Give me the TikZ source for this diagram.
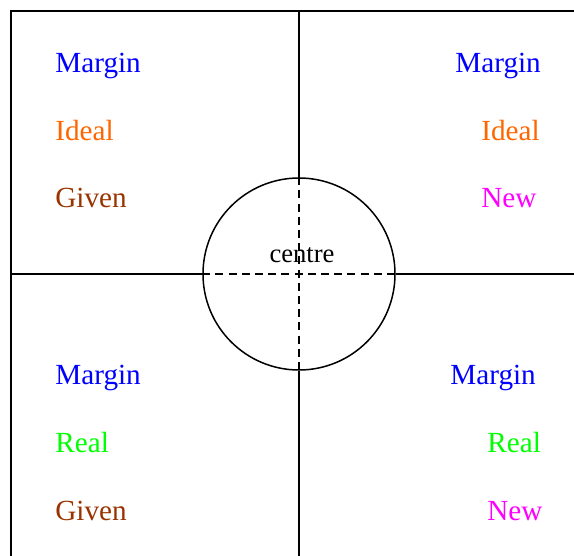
\documentclass[tikz,border=0pt]{standalone}
\usepackage{fontspec}
\setmainfont{Liberation Serif}
\usetikzlibrary{positioning}
\definecolor{MarginBlue}  {RGB}{  0,   0, 255}
\definecolor{IdealOrange} {RGB}{255, 102,   0}
\definecolor{GivenBrown}  {RGB}{153,  51,   0}
\definecolor{RealGreen}   {RGB}{  0, 255,   0}
\definecolor{NewMagenta}  {RGB}{255,   0, 255}
\tikzset{
  % quadrant label
  qlabel/.style={
    anchor=base west, inner sep=0pt,
    font=\fontsize{14.6}{17}\selectfont, text=#1
  },
  qlabel/.default=black,
  % frame and cross lines
  frameline/.style={line width=0.75pt, color=black},
  crossline/.style={line width=0.75pt, color=black, dashed,
    dash pattern=on 4pt off 2.6pt}
}
\begin{document}
\begin{tikzpicture}[x=0.5pt, y=-0.5pt]
  \useasboundingbox (0,0) rectangle (574,556);

  % ── frame points ──────────────────────────────────────────
  \coordinate (tl)     at (11,11);
  \coordinate (tr)     at (574,11);
  \coordinate (bl)     at (11,556);
  \coordinate (top)    at (299,11);
  \coordinate (bottom) at (299,556);
  \coordinate (left)   at (11,274);
  \coordinate (right)  at (574,274);

  % ── centre circle ─────────────────────────────────────────
  \node[circle, draw, line width=0.75pt, minimum size=96pt, inner sep=0pt]
        (hub) at (299,274) {};
  \node[anchor=base, inner sep=0pt, font=\fontsize{13.3}{15}\selectfont]
        (centre) at (302,263) {centre};

  % ── frame and cross ───────────────────────────────────────
  \draw[frameline] (bl) -- (tl) -- (tr);
  \draw[frameline] (top) -- (hub.north);
  \draw[frameline] (hub.south) -- (bottom);
  \draw[frameline] (left) -- (hub.west);
  \draw[frameline] (hub.east) -- (right);
  \draw[crossline] (hub.north) -- (hub.south);
  \draw[crossline] (hub.west) -- (hub.east);

  % ── top left ──────────────────────────────────────────────
  \node[qlabel=MarginBlue]  (tl_margin) at (55,73)  {Margin};
  \node[qlabel=IdealOrange] (tl_ideal)  at (55,141) {Ideal};
  \node[qlabel=GivenBrown]  (tl_given)  at (55,208) {Given};

  % ── top right ─────────────────────────────────────────────
  \node[qlabel=MarginBlue]  (tr_margin) at (455,73)  {Margin};
  \node[qlabel=IdealOrange] (tr_ideal)  at (481,141) {Ideal};
  \node[qlabel=NewMagenta]  (tr_new)    at (481,208) {New};

  % ── bottom left ───────────────────────────────────────────
  \node[qlabel=MarginBlue]  (bl_margin) at (55,385) {Margin};
  \node[qlabel=RealGreen]   (bl_real)   at (55,452) {Real};
  \node[qlabel=GivenBrown]  (bl_given)  at (55,520) {Given};

  % ── bottom right ──────────────────────────────────────────
  \node[qlabel=MarginBlue]  (br_margin) at (450,385) {Margin};
  \node[qlabel=RealGreen]   (br_real)   at (487,452) {Real};
  \node[qlabel=NewMagenta]  (br_new)    at (487,520) {New};

\end{tikzpicture}
\end{document}
